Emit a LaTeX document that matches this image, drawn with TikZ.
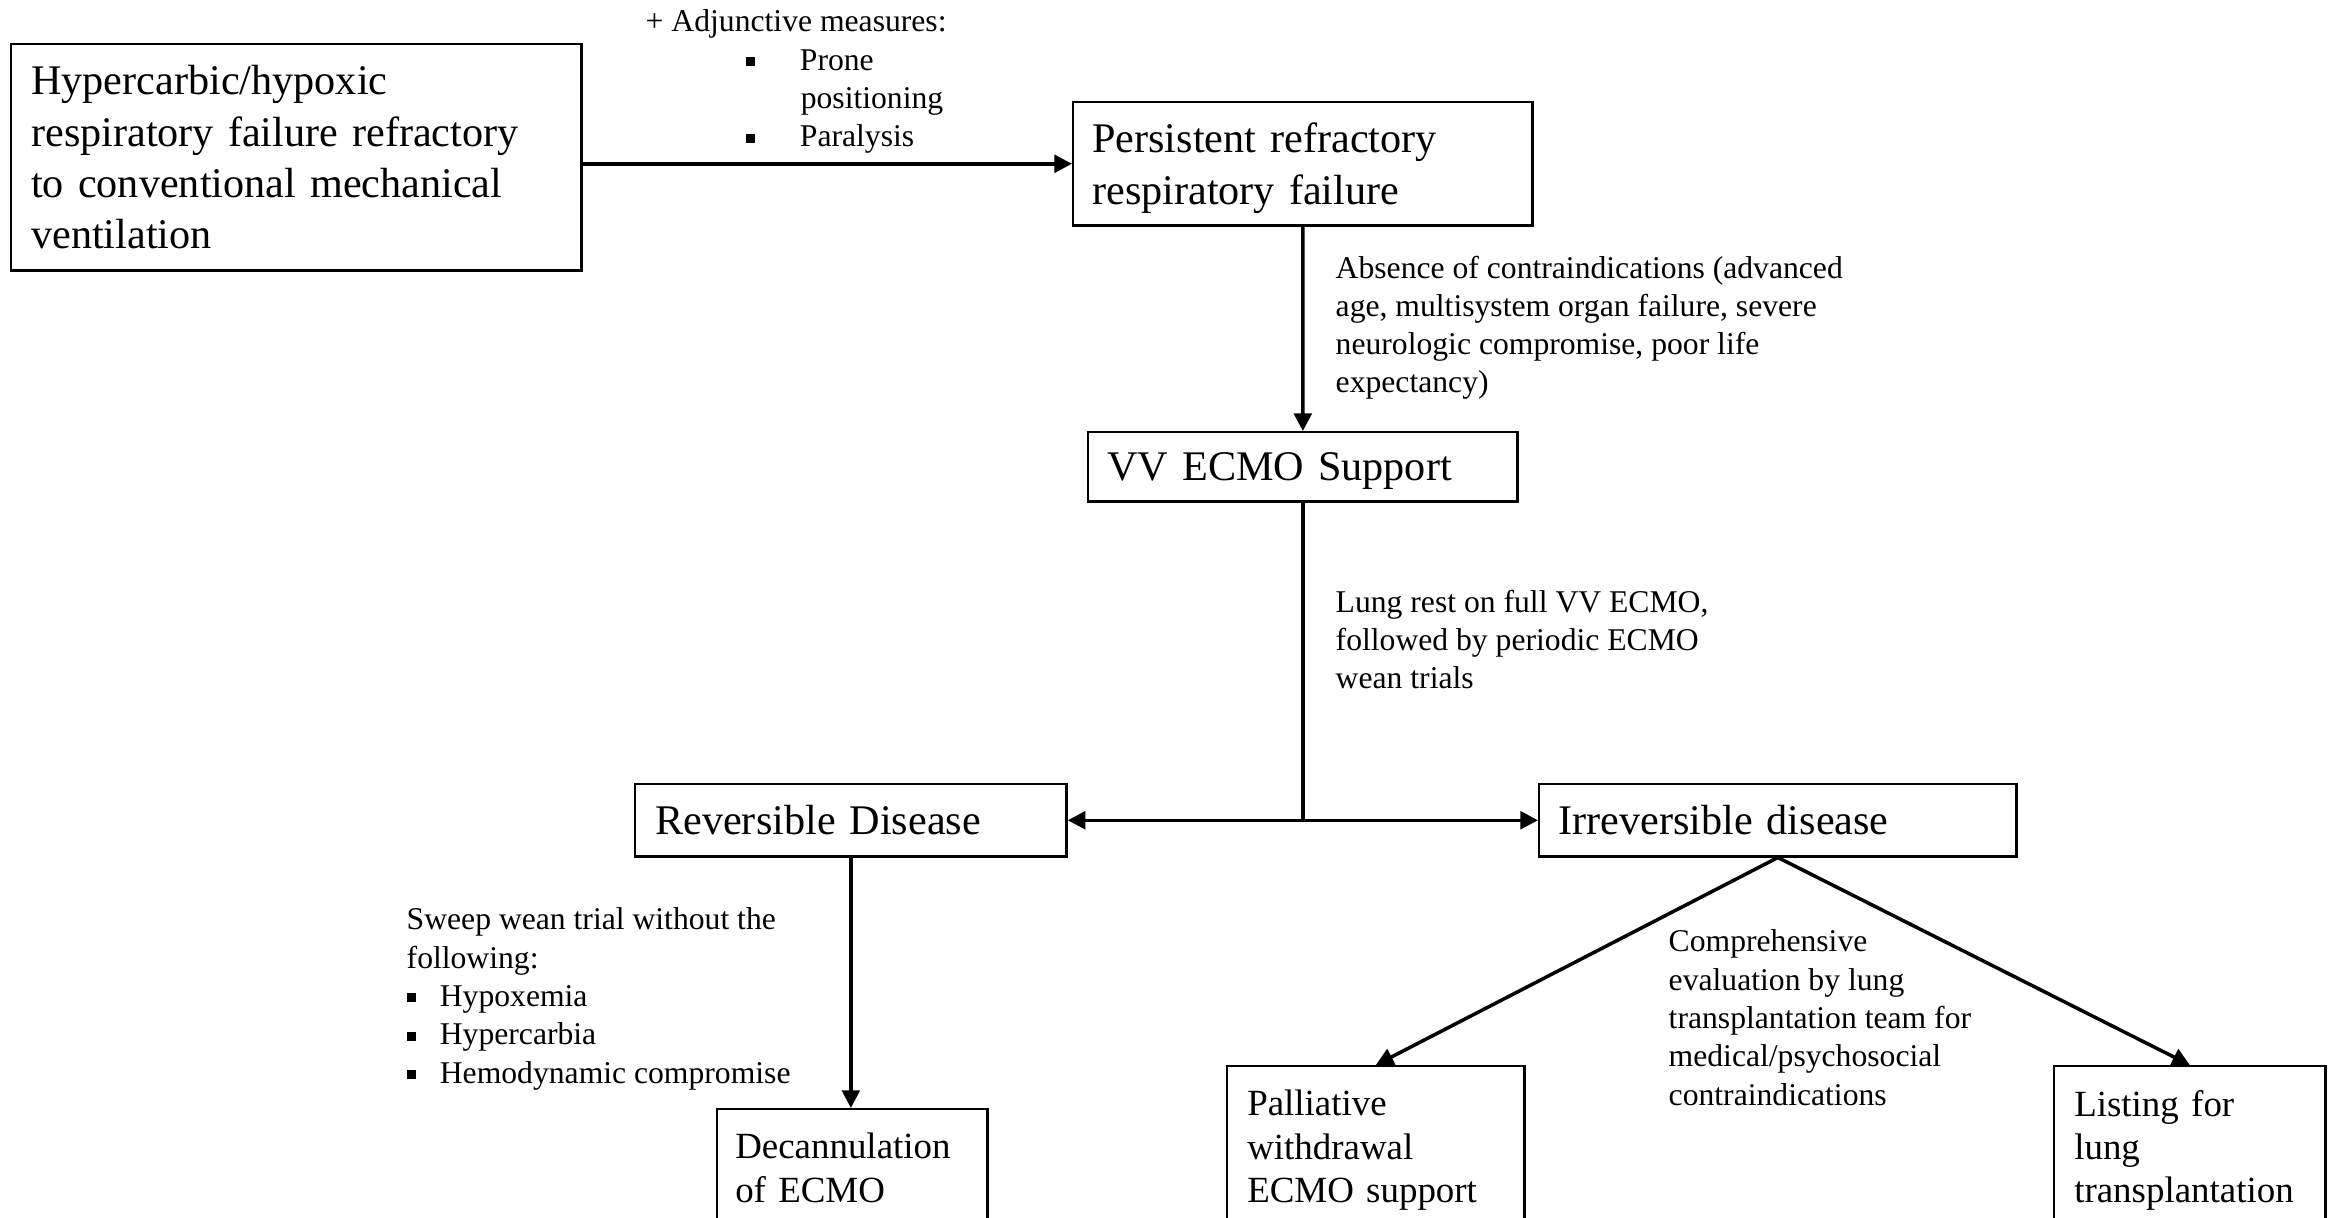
\documentclass[tikz,border=0pt]{standalone}
\usepackage{fontspec}
\setmainfont{Liberation Serif}
\usetikzlibrary{arrows.meta}

\def\thebullet{\rule[1.1pt]{2.6pt}{2.6pt}}

\begin{document}
\begin{tikzpicture}[
    x=0.01cm,y=-0.01cm,
    thebox/.style={draw,line width=0.7pt,anchor=north west,align=left,inner ysep=0pt,
      font=\fontsize{12}{14.6}\selectfont},
    thesmallbox/.style={draw,line width=0.7pt,anchor=north west,align=left,inner ysep=0.24cm,
      text depth=3cm,font=\fontsize{10.5}{12.3}\selectfont},
    thelabel/.style={anchor=north west,align=left,inner sep=0pt,font=\fontsize{9}{10.9}\selectfont},
    thearrow/.style={line width=1pt,-{Triangle[length=5pt,width=5pt]}},
    theline/.style={line width=1pt}
    ]

    \clip (0,0) rectangle (2328,1217);

    \node[thebox,inner xsep=0.2cm,text width=5.30cm,minimum height=2.26cm] (failure) at (10,43)
      {Hypercarbic/hypoxic\\respiratory failure refractory\\to conventional mechanical\\ventilation};
    \node[thebox,inner xsep=0.19cm,text width=4.21cm,minimum height=1.23cm,text depth=14.6pt] (persistent) at (1072,101)
      {Persistent refractory\\respiratory failure};
    \node[thebox,inner xsep=0.19cm,text width=3.91cm,minimum height=0.69cm,text depth=0pt] (ecmo) at (1087,431)
      {VV ECMO Support};
    \node[thebox,inner xsep=0.2cm,text width=3.91cm,minimum height=0.72cm] (reversible) at (634,783)
      {Reversible Disease};
    \node[thebox,inner xsep=0.19cm,text width=4.39cm,minimum height=0.72cm] (irreversible) at (1538,783)
      {Irreversible disease};
    \node[thesmallbox,inner xsep=0.18cm,text width=2.34cm] (decannulation) at (716,1108)
      {Decannulation\\of ECMO};
    \node[thesmallbox,inner xsep=0.2cm,text width=2.57cm] (palliative) at (1226,1065)
      {Palliative\\withdrawal\\ECMO support};
    \node[thesmallbox,inner xsep=0.2cm,text width=2.31cm] (listing) at (2053,1065)
      {Listing for\\lung\\transplantation};

    % labels on the connectors
    \node[thelabel] (adjunct) at (645,9)
      {+ Adjunctive measures:\\
       \hspace*{1.0cm}\thebullet\hspace*{0.45cm}Prone\\
       \hspace*{1.55cm}positioning\\
       \hspace*{1.0cm}\thebullet\hspace*{0.45cm}Paralysis};
    \node[thelabel] (absence) at (1335,255)
      {Absence of contraindications (advanced\\age, multisystem organ failure, severe\\neurologic compromise, poor life\\expectancy)};
    \node[thelabel] (lungrest) at (1335,589)
      {Lung rest on full VV ECMO,\\followed by periodic ECMO\\wean trials};
    \node[thelabel] (sweep) at (406,907)
      {Sweep wean trial without the\\following:\\
       \thebullet\hspace*{0.24cm}Hypoxemia\\
       \thebullet\hspace*{0.24cm}Hypercarbia\\
       \thebullet\hspace*{0.24cm}Hemodynamic compromise};
    \node[thelabel] (evaluation) at (1668,929)
      {Comprehensive\\evaluation by lung\\transplantation team for\\medical/psychosocial\\contraindications};

    \coordinate (split) at (ecmo.south |- reversible.east);

    \draw[thearrow] (failure.east |- persistent.west) -- (persistent.west);
    \draw[thearrow] (persistent.south) -- (ecmo.north);
    \draw[theline] (ecmo.south) -- (split);
    \draw[thearrow] (split) -- (reversible.east);
    \draw[thearrow] (split) -- (irreversible.west);
    \draw[thearrow] (reversible.south) -- (reversible.south |- decannulation.north);
    \draw[thearrow] (irreversible.south) -- (palliative.north);
    \draw[thearrow] (irreversible.south) -- (listing.north);
\end{tikzpicture}
\end{document}
